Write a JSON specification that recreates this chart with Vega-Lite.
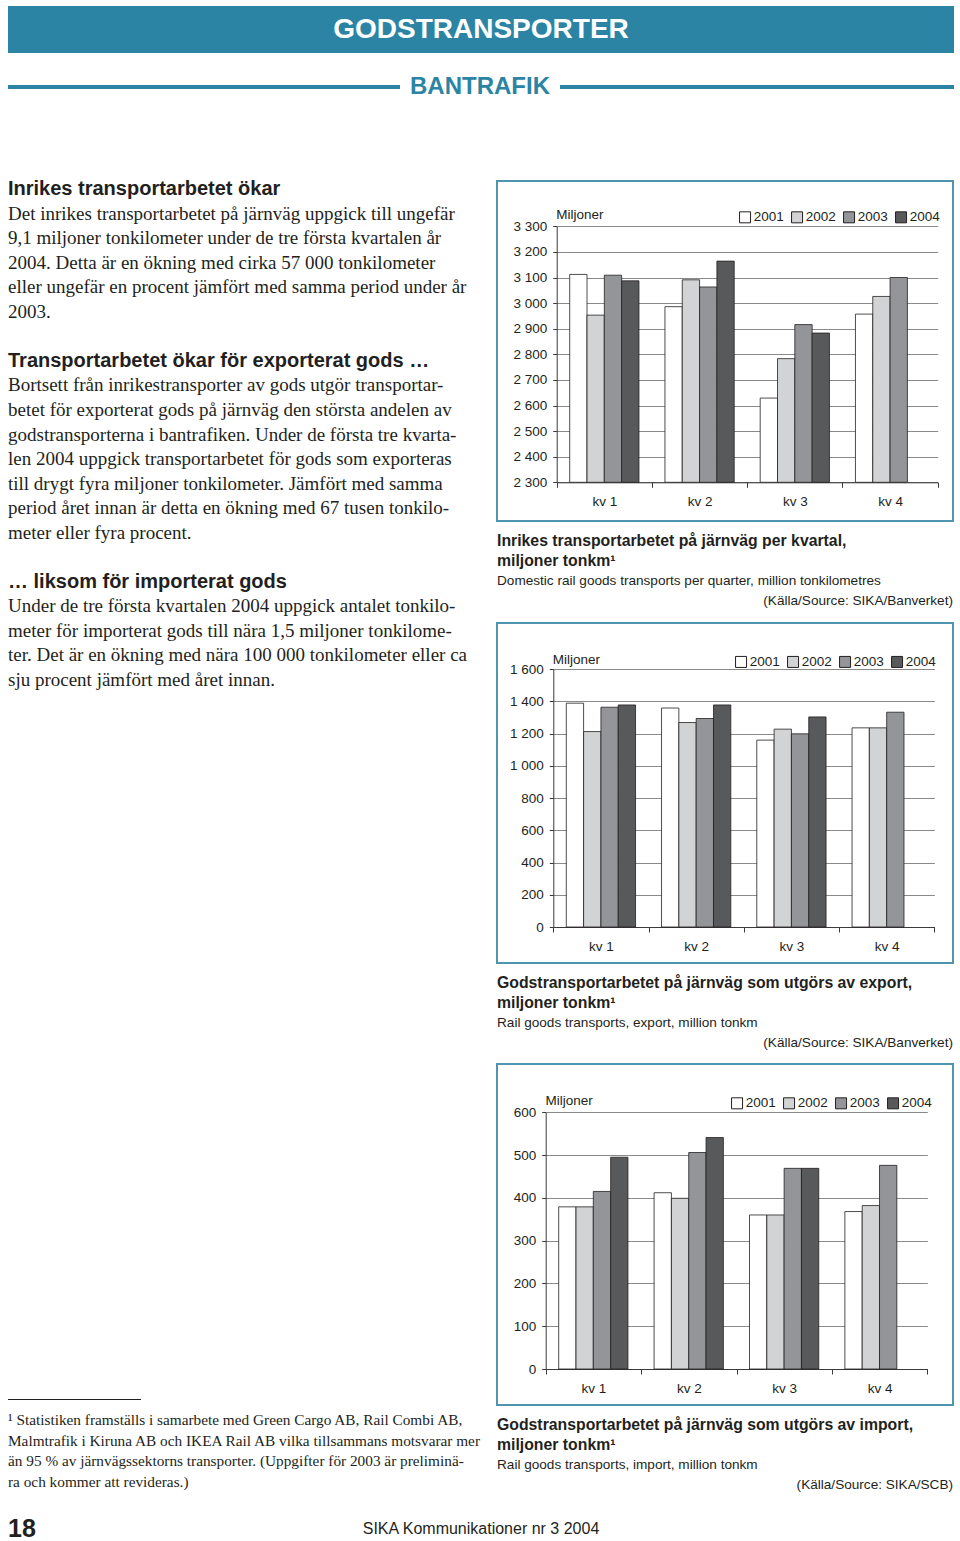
{
  "$schema": "https://vega.github.io/schema/vega-lite/v6.json",
  "background": "white",
  "padding": {"top": 6, "left": 8, "right": 0, "bottom": 0},
  "bounds": "flush",
  "spacing": 0,
  "resolve": {"scale": {"fill": "independent"}, "legend": {"fill": "independent"}},
  "config": {
    "view": {"stroke": null},
    "font": "Liberation Sans",
    "axis": {"labelFont": "Liberation Sans", "labelFontSize": 13.5, "labelColor": "#231f20", "titleFont": "Liberation Sans", "titleFontSize": 13.5, "titleFontWeight": "normal", "titleColor": "#231f20", "domainColor": "#3a3a3a", "tickColor": "#3a3a3a", "gridColor": "#8a8a8a", "gridWidth": 1},
    "legend": {"labelFont": "Liberation Sans", "labelFontSize": 13.5, "labelColor": "#231f20"}
  },
  "datasets": {
    "inrikes": [
      {"quarter": "kv 1", "year": "2001", "value": 3112}, {"quarter": "kv 1", "year": "2002", "value": 2953}, {"quarter": "kv 1", "year": "2003", "value": 3109}, {"quarter": "kv 1", "year": "2004", "value": 3087},
      {"quarter": "kv 2", "year": "2001", "value": 2986}, {"quarter": "kv 2", "year": "2002", "value": 3091}, {"quarter": "kv 2", "year": "2003", "value": 3063}, {"quarter": "kv 2", "year": "2004", "value": 3164},
      {"quarter": "kv 3", "year": "2001", "value": 2629}, {"quarter": "kv 3", "year": "2002", "value": 2783}, {"quarter": "kv 3", "year": "2003", "value": 2916}, {"quarter": "kv 3", "year": "2004", "value": 2883},
      {"quarter": "kv 4", "year": "2001", "value": 2957}, {"quarter": "kv 4", "year": "2002", "value": 3026}, {"quarter": "kv 4", "year": "2003", "value": 3100}
    ],
    "export": [
      {"quarter": "kv 1", "year": "2001", "value": 1388}, {"quarter": "kv 1", "year": "2002", "value": 1212}, {"quarter": "kv 1", "year": "2003", "value": 1363}, {"quarter": "kv 1", "year": "2004", "value": 1377},
      {"quarter": "kv 2", "year": "2001", "value": 1358}, {"quarter": "kv 2", "year": "2002", "value": 1268}, {"quarter": "kv 2", "year": "2003", "value": 1293}, {"quarter": "kv 2", "year": "2004", "value": 1377},
      {"quarter": "kv 3", "year": "2001", "value": 1159}, {"quarter": "kv 3", "year": "2002", "value": 1227}, {"quarter": "kv 3", "year": "2003", "value": 1198}, {"quarter": "kv 3", "year": "2004", "value": 1303},
      {"quarter": "kv 4", "year": "2001", "value": 1235}, {"quarter": "kv 4", "year": "2002", "value": 1235}, {"quarter": "kv 4", "year": "2003", "value": 1332}
    ],
    "import": [
      {"quarter": "kv 1", "year": "2001", "value": 379}, {"quarter": "kv 1", "year": "2002", "value": 379}, {"quarter": "kv 1", "year": "2003", "value": 415}, {"quarter": "kv 1", "year": "2004", "value": 495},
      {"quarter": "kv 2", "year": "2001", "value": 412}, {"quarter": "kv 2", "year": "2002", "value": 399}, {"quarter": "kv 2", "year": "2003", "value": 506}, {"quarter": "kv 2", "year": "2004", "value": 541},
      {"quarter": "kv 3", "year": "2001", "value": 360}, {"quarter": "kv 3", "year": "2002", "value": 360}, {"quarter": "kv 3", "year": "2003", "value": 469}, {"quarter": "kv 3", "year": "2004", "value": 469},
      {"quarter": "kv 4", "year": "2001", "value": 368}, {"quarter": "kv 4", "year": "2002", "value": 382}, {"quarter": "kv 4", "year": "2003", "value": 476}
    ],
    "bodytext": [
      {"line": 0, "kind": "heading", "text": "Inrikes transportarbetet ökar"},
      {"line": 1, "kind": "body", "text": "Det inrikes transportarbetet på järnväg uppgick till ungefär"},
      {"line": 2, "kind": "body", "text": "9,1 miljoner tonkilometer under de tre första kvartalen år"},
      {"line": 3, "kind": "body", "text": "2004. Detta är en ökning med cirka 57 000 tonkilometer"},
      {"line": 4, "kind": "body", "text": "eller ungefär en procent jämfört med samma period under år"},
      {"line": 5, "kind": "body", "text": "2003."},
      {"line": 7, "kind": "heading", "text": "Transportarbetet ökar för exporterat gods …"},
      {"line": 8, "kind": "body", "text": "Bortsett från inrikestransporter av gods utgör transportar-"},
      {"line": 9, "kind": "body", "text": "betet för exporterat gods på järnväg den största andelen av"},
      {"line": 10, "kind": "body", "text": "godstransporterna i bantrafiken. Under de första tre kvarta-"},
      {"line": 11, "kind": "body", "text": "len 2004 uppgick transportarbetet för gods som exporteras"},
      {"line": 12, "kind": "body", "text": "till drygt fyra miljoner tonkilometer. Jämfört med samma"},
      {"line": 13, "kind": "body", "text": "period året innan är detta en ökning med 67 tusen tonkilo-"},
      {"line": 14, "kind": "body", "text": "meter eller fyra procent."},
      {"line": 16, "kind": "heading", "text": "… liksom för importerat gods"},
      {"line": 17, "kind": "body", "text": "Under de tre första kvartalen 2004 uppgick antalet tonkilo-"},
      {"line": 18, "kind": "body", "text": "meter för importerat gods till nära 1,5 miljoner tonkilome-"},
      {"line": 19, "kind": "body", "text": "ter. Det är en ökning med nära 100 000 tonkilometer eller ca"},
      {"line": 20, "kind": "body", "text": "sju procent jämfört med året innan."}
    ],
    "footnote": [
      {"line": 0, "text": "¹ Statistiken framställs i samarbete med Green Cargo AB, Rail Combi AB,"},
      {"line": 1, "text": "Malmtrafik i Kiruna AB och IKEA Rail AB vilka tillsammans motsvarar mer"},
      {"line": 2, "text": "än 95 % av järnvägssektorns transporter. (Uppgifter för 2003 är preliminä-"},
      {"line": 3, "text": "ra och kommer att revideras.)"}
    ]
  },
  "vconcat": [
    {
      "width": 946, "height": 47,
      "view": {"fill": "#2b84a4", "stroke": null},
      "data": {"values": [{"label": "GODSTRANSPORTER"}]},
      "mark": {"type": "text", "font": "Liberation Sans", "fontWeight": "bold", "fontSize": 28, "color": "#ffffff", "align": "center", "baseline": "middle"},
      "encoding": {"text": {"field": "label"}}
    },
    {"width": 1, "height": 32, "data": {"values": []}, "mark": "point"},
    {
      "hconcat": [
        {"width": 392, "height": 4, "view": {"fill": "#2b84a4", "stroke": null}, "data": {"values": []}, "mark": "point"},
        {
          "width": 160, "height": 4,
          "data": {"values": [{"label": "BANTRAFIK"}]},
          "mark": {"type": "text", "font": "Liberation Sans", "fontWeight": "bold", "fontSize": 24, "color": "#2b84a4", "align": "center", "baseline": "middle"},
          "encoding": {"text": {"field": "label"}}
        },
        {"width": 394, "height": 4, "view": {"fill": "#2b84a4", "stroke": null}, "data": {"values": []}, "mark": "point"}
      ],
      "spacing": 0, "bounds": "flush"
    },
    {"width": 1, "height": 92, "data": {"values": []}, "mark": "point"},
    {
      "hconcat": [
        {
          "vconcat": [
            {
              "width": 489, "height": 515,
              "data": {"name": "bodytext"},
              "encoding": {
                "y": {"field": "line", "type": "quantitative", "scale": {"domain": [-0.5, 20.5], "reverse": true, "nice": false, "zero": false}, "axis": null},
                "x": {"datum": 0, "type": "quantitative", "scale": {"domain": [0, 1], "nice": false, "zero": false}, "axis": null},
                "text": {"field": "text"}
              },
              "layer": [
                {"transform": [{"filter": "datum.kind === 'heading'"}], "mark": {"type": "text", "align": "left", "baseline": "middle", "font": "Liberation Sans", "fontWeight": "bold", "fontSize": 20, "color": "#231f20"}},
                {"transform": [{"filter": "datum.kind === 'body'"}], "mark": {"type": "text", "align": "left", "baseline": "middle", "font": "Liberation Serif", "fontSize": 19, "color": "#231f20"}}
              ]
            },
            {"width": 1, "height": 707, "data": {"values": []}, "mark": "point"},
            {"width": 133, "height": 1, "view": {"fill": "#231f20", "stroke": null}, "data": {"values": []}, "mark": "point"},
            {"width": 1, "height": 10, "data": {"values": []}, "mark": "point"},
            {
              "width": 489, "height": 82,
              "data": {"name": "footnote"},
              "mark": {"type": "text", "align": "left", "baseline": "middle", "font": "Liberation Serif", "fontSize": 15.3, "color": "#231f20"},
              "encoding": {
                "y": {"field": "line", "type": "quantitative", "scale": {"domain": [-0.5, 3.5], "reverse": true, "nice": false, "zero": false}, "axis": null},
                "x": {"datum": 0, "type": "quantitative", "scale": {"domain": [0, 1], "nice": false, "zero": false}, "axis": null},
                "text": {"field": "text"}
              }
            }
          ],
          "spacing": 0, "bounds": "flush"
        },
        {
          "vconcat": [
            {"width": 1, "height": 4, "data": {"values": []}, "mark": "point"},
            {
              "width": 456, "height": 340,
              "view": {"stroke": "#4f95b0", "strokeWidth": 2},
              "data": {"name": "inrikes"},
              "mark": {"type": "bar", "stroke": "#231f20", "strokeWidth": 0.8},
              "encoding": {
                "x": {"field": "quarter", "type": "nominal", "scale": {"range": [59.7, 440.7], "paddingInner": 0, "paddingOuter": 0},
                  "axis": {"title": null, "offset": -38.7, "tickBand": "extent", "labelAngle": 0, "tickSize": 5, "labelPadding": 7, "grid": false}},
                "xOffset": {"field": "year", "type": "nominal", "scale": {"domain": ["2001", "2002", "2003", "2004"], "paddingInner": 0, "paddingOuter": 0.75}},
                "y": {"field": "value", "type": "quantitative", "scale": {"domain": [2300, 3300], "range": [301.3, 45.3], "nice": false, "zero": false},
                  "axis": {"title": "Miljoner", "offset": -59.7, "values": [2300, 2400, 2500, 2600, 2700, 2800, 2900, 3000, 3100, 3200, 3300], "grid": true, "tickSize": 4, "labelPadding": 6, "labelExpr": "replace(format(datum.value, ','), ',', ' ')", "titleAngle": 0, "titleAlign": "left", "titleBaseline": "middle", "titleX": -1, "titleY": 33}},
                "y2": {"datum": 2300},
                "fill": {"field": "year", "type": "nominal", "scale": {"domain": ["2001", "2002", "2003", "2004"], "range": ["#ffffff", "#d1d3d4", "#939598", "#58595b"]},
                  "legend": {"title": null, "orient": "none", "legendX": 241.3, "legendY": 29.2, "direction": "horizontal", "columns": 4, "symbolType": "square", "symbolSize": 121, "symbolStrokeColor": "#231f20", "symbolStrokeWidth": 1, "columnPadding": 5, "labelOffset": 2}}
              }
            },
            {"width": 1, "height": 10, "data": {"values": []}, "mark": "point"},
            {
              "width": 456, "height": 80,
              "data": {"values": [
                {"line": 0, "kind": "title", "text": "Inrikes transportarbetet på järnväg per kvartal,"},
                {"line": 1, "kind": "title", "text": "miljoner tonkm¹"},
                {"line": 2, "kind": "en", "text": "Domestic rail goods transports per quarter, million tonkilometres"},
                {"line": 3, "kind": "source", "text": "(Källa/Source: SIKA/Banverket)"}
              ]},
              "encoding": {
                "y": {"field": "line", "type": "quantitative", "scale": {"domain": [-0.5, 3.5], "reverse": true, "nice": false, "zero": false}, "axis": null},
                "text": {"field": "text"}
              },
              "layer": [
                {"transform": [{"filter": "datum.kind === 'title'"}], "mark": {"type": "text", "align": "left", "baseline": "middle", "font": "Liberation Sans", "fontWeight": "bold", "fontSize": 15.8, "color": "#231f20"},
                  "encoding": {"x": {"datum": 0, "type": "quantitative", "scale": {"domain": [0, 1], "nice": false, "zero": false}, "axis": null}}},
                {"transform": [{"filter": "datum.kind === 'en'"}], "mark": {"type": "text", "align": "left", "baseline": "middle", "font": "Liberation Sans", "fontSize": 13.6, "color": "#231f20"},
                  "encoding": {"x": {"datum": 0, "type": "quantitative", "scale": {"domain": [0, 1], "nice": false, "zero": false}, "axis": null}}},
                {"transform": [{"filter": "datum.kind === 'source'"}], "mark": {"type": "text", "align": "right", "baseline": "middle", "font": "Liberation Sans", "fontSize": 13.6, "color": "#231f20"},
                  "encoding": {"x": {"datum": 1, "type": "quantitative", "scale": {"domain": [0, 1], "nice": false, "zero": false}, "axis": null}}}
              ]
            },
            {"width": 1, "height": 12, "data": {"values": []}, "mark": "point"},
            {
              "width": 456, "height": 340,
              "view": {"stroke": "#4f95b0", "strokeWidth": 2},
              "data": {"name": "export"},
              "mark": {"type": "bar", "stroke": "#231f20", "strokeWidth": 0.8},
              "encoding": {
                "x": {"field": "quarter", "type": "nominal", "scale": {"range": [56.3, 437.3], "paddingInner": 0, "paddingOuter": 0},
                  "axis": {"title": null, "offset": -36, "tickBand": "extent", "labelAngle": 0, "tickSize": 5, "labelPadding": 7, "grid": false}},
                "xOffset": {"field": "year", "type": "nominal", "scale": {"domain": ["2001", "2002", "2003", "2004"], "paddingInner": 0, "paddingOuter": 0.75}},
                "y": {"field": "value", "type": "quantitative", "scale": {"domain": [0, 1600], "range": [304, 46], "nice": false, "zero": false},
                  "axis": {"title": "Miljoner", "offset": -56.3, "values": [0, 200, 400, 600, 800, 1000, 1200, 1400, 1600], "grid": true, "tickSize": 4, "labelPadding": 6, "labelExpr": "replace(format(datum.value, ','), ',', ' ')", "titleAngle": 0, "titleAlign": "left", "titleBaseline": "middle", "titleX": -1, "titleY": 36.3}},
                "y2": {"datum": 0},
                "fill": {"field": "year", "type": "nominal", "scale": {"domain": ["2001", "2002", "2003", "2004"], "range": ["#ffffff", "#d1d3d4", "#939598", "#58595b"]},
                  "legend": {"title": null, "orient": "none", "legendX": 237.3, "legendY": 31.8, "direction": "horizontal", "columns": 4, "symbolType": "square", "symbolSize": 121, "symbolStrokeColor": "#231f20", "symbolStrokeWidth": 1, "columnPadding": 5, "labelOffset": 2}}
              }
            },
            {"width": 1, "height": 10, "data": {"values": []}, "mark": "point"},
            {
              "width": 456, "height": 80,
              "data": {"values": [
                {"line": 0, "kind": "title", "text": "Godstransportarbetet på järnväg som utgörs av export,"},
                {"line": 1, "kind": "title", "text": "miljoner tonkm¹"},
                {"line": 2, "kind": "en", "text": "Rail goods transports, export, million tonkm"},
                {"line": 3, "kind": "source", "text": "(Källa/Source: SIKA/Banverket)"}
              ]},
              "encoding": {
                "y": {"field": "line", "type": "quantitative", "scale": {"domain": [-0.5, 3.5], "reverse": true, "nice": false, "zero": false}, "axis": null},
                "text": {"field": "text"}
              },
              "layer": [
                {"transform": [{"filter": "datum.kind === 'title'"}], "mark": {"type": "text", "align": "left", "baseline": "middle", "font": "Liberation Sans", "fontWeight": "bold", "fontSize": 15.8, "color": "#231f20"},
                  "encoding": {"x": {"datum": 0, "type": "quantitative", "scale": {"domain": [0, 1], "nice": false, "zero": false}, "axis": null}}},
                {"transform": [{"filter": "datum.kind === 'en'"}], "mark": {"type": "text", "align": "left", "baseline": "middle", "font": "Liberation Sans", "fontSize": 13.6, "color": "#231f20"},
                  "encoding": {"x": {"datum": 0, "type": "quantitative", "scale": {"domain": [0, 1], "nice": false, "zero": false}, "axis": null}}},
                {"transform": [{"filter": "datum.kind === 'source'"}], "mark": {"type": "text", "align": "right", "baseline": "middle", "font": "Liberation Sans", "fontSize": 13.6, "color": "#231f20"},
                  "encoding": {"x": {"datum": 1, "type": "quantitative", "scale": {"domain": [0, 1], "nice": false, "zero": false}, "axis": null}}}
              ]
            },
            {"width": 1, "height": 11, "data": {"values": []}, "mark": "point"},
            {
              "width": 456, "height": 341,
              "view": {"stroke": "#4f95b0", "strokeWidth": 2},
              "data": {"name": "import"},
              "mark": {"type": "bar", "stroke": "#231f20", "strokeWidth": 0.8},
              "encoding": {
                "x": {"field": "quarter", "type": "nominal", "scale": {"range": [48.7, 430.3], "paddingInner": 0, "paddingOuter": 0},
                  "axis": {"title": null, "offset": -36, "tickBand": "extent", "labelAngle": 0, "tickSize": 5, "labelPadding": 7, "grid": false}},
                "xOffset": {"field": "year", "type": "nominal", "scale": {"domain": ["2001", "2002", "2003", "2004"], "paddingInner": 0, "paddingOuter": 0.75}},
                "y": {"field": "value", "type": "quantitative", "scale": {"domain": [0, 600], "range": [305, 48.3], "nice": false, "zero": false},
                  "axis": {"title": "Miljoner", "offset": -48.7, "values": [0, 100, 200, 300, 400, 500, 600], "grid": true, "tickSize": 4, "labelPadding": 6, "labelExpr": "replace(format(datum.value, ','), ',', ' ')", "titleAngle": 0, "titleAlign": "left", "titleBaseline": "middle", "titleX": -0.7, "titleY": 36.7}},
                "y2": {"datum": 0},
                "fill": {"field": "year", "type": "nominal", "scale": {"domain": ["2001", "2002", "2003", "2004"], "range": ["#ffffff", "#d1d3d4", "#939598", "#58595b"]},
                  "legend": {"title": null, "orient": "none", "legendX": 233.3, "legendY": 32.2, "direction": "horizontal", "columns": 4, "symbolType": "square", "symbolSize": 121, "symbolStrokeColor": "#231f20", "symbolStrokeWidth": 1, "columnPadding": 5, "labelOffset": 2}}
              }
            },
            {"width": 1, "height": 10, "data": {"values": []}, "mark": "point"},
            {
              "width": 456, "height": 80,
              "data": {"values": [
                {"line": 0, "kind": "title", "text": "Godstransportarbetet på järnväg som utgörs av import,"},
                {"line": 1, "kind": "title", "text": "miljoner tonkm¹"},
                {"line": 2, "kind": "en", "text": "Rail goods transports, import, million tonkm"},
                {"line": 3, "kind": "source", "text": "(Källa/Source: SIKA/SCB)"}
              ]},
              "encoding": {
                "y": {"field": "line", "type": "quantitative", "scale": {"domain": [-0.5, 3.5], "reverse": true, "nice": false, "zero": false}, "axis": null},
                "text": {"field": "text"}
              },
              "layer": [
                {"transform": [{"filter": "datum.kind === 'title'"}], "mark": {"type": "text", "align": "left", "baseline": "middle", "font": "Liberation Sans", "fontWeight": "bold", "fontSize": 15.8, "color": "#231f20"},
                  "encoding": {"x": {"datum": 0, "type": "quantitative", "scale": {"domain": [0, 1], "nice": false, "zero": false}, "axis": null}}},
                {"transform": [{"filter": "datum.kind === 'en'"}], "mark": {"type": "text", "align": "left", "baseline": "middle", "font": "Liberation Sans", "fontSize": 13.6, "color": "#231f20"},
                  "encoding": {"x": {"datum": 0, "type": "quantitative", "scale": {"domain": [0, 1], "nice": false, "zero": false}, "axis": null}}},
                {"transform": [{"filter": "datum.kind === 'source'"}], "mark": {"type": "text", "align": "right", "baseline": "middle", "font": "Liberation Sans", "fontSize": 13.6, "color": "#231f20"},
                  "encoding": {"x": {"datum": 1, "type": "quantitative", "scale": {"domain": [0, 1], "nice": false, "zero": false}, "axis": null}}}
              ]
            }
          ],
          "spacing": 0, "bounds": "flush",
          "resolve": {"scale": {"fill": "independent"}, "legend": {"fill": "independent"}}
        }
      ],
      "spacing": 489, "bounds": "flush",
      "resolve": {"scale": {"fill": "independent"}, "legend": {"fill": "independent"}}
    },
    {"width": 1, "height": 1341, "data": {"values": []}, "mark": "point"},
    {
      "width": 946, "height": 22,
      "layer": [
        {
          "data": {"values": [{"label": "18"}]},
          "mark": {"type": "text", "align": "left", "baseline": "middle", "font": "Liberation Sans", "fontWeight": "bold", "fontSize": 25, "color": "#231f20"},
          "encoding": {"x": {"datum": 0, "type": "quantitative", "scale": {"domain": [0, 1], "nice": false, "zero": false}, "axis": null}, "text": {"field": "label"}}
        },
        {
          "data": {"values": [{"label": "SIKA Kommunikationer nr 3 2004"}]},
          "mark": {"type": "text", "align": "center", "baseline": "middle", "font": "Liberation Sans", "fontSize": 16, "color": "#231f20"},
          "encoding": {"text": {"field": "label"}}
        }
      ]
    }
  ]
}
